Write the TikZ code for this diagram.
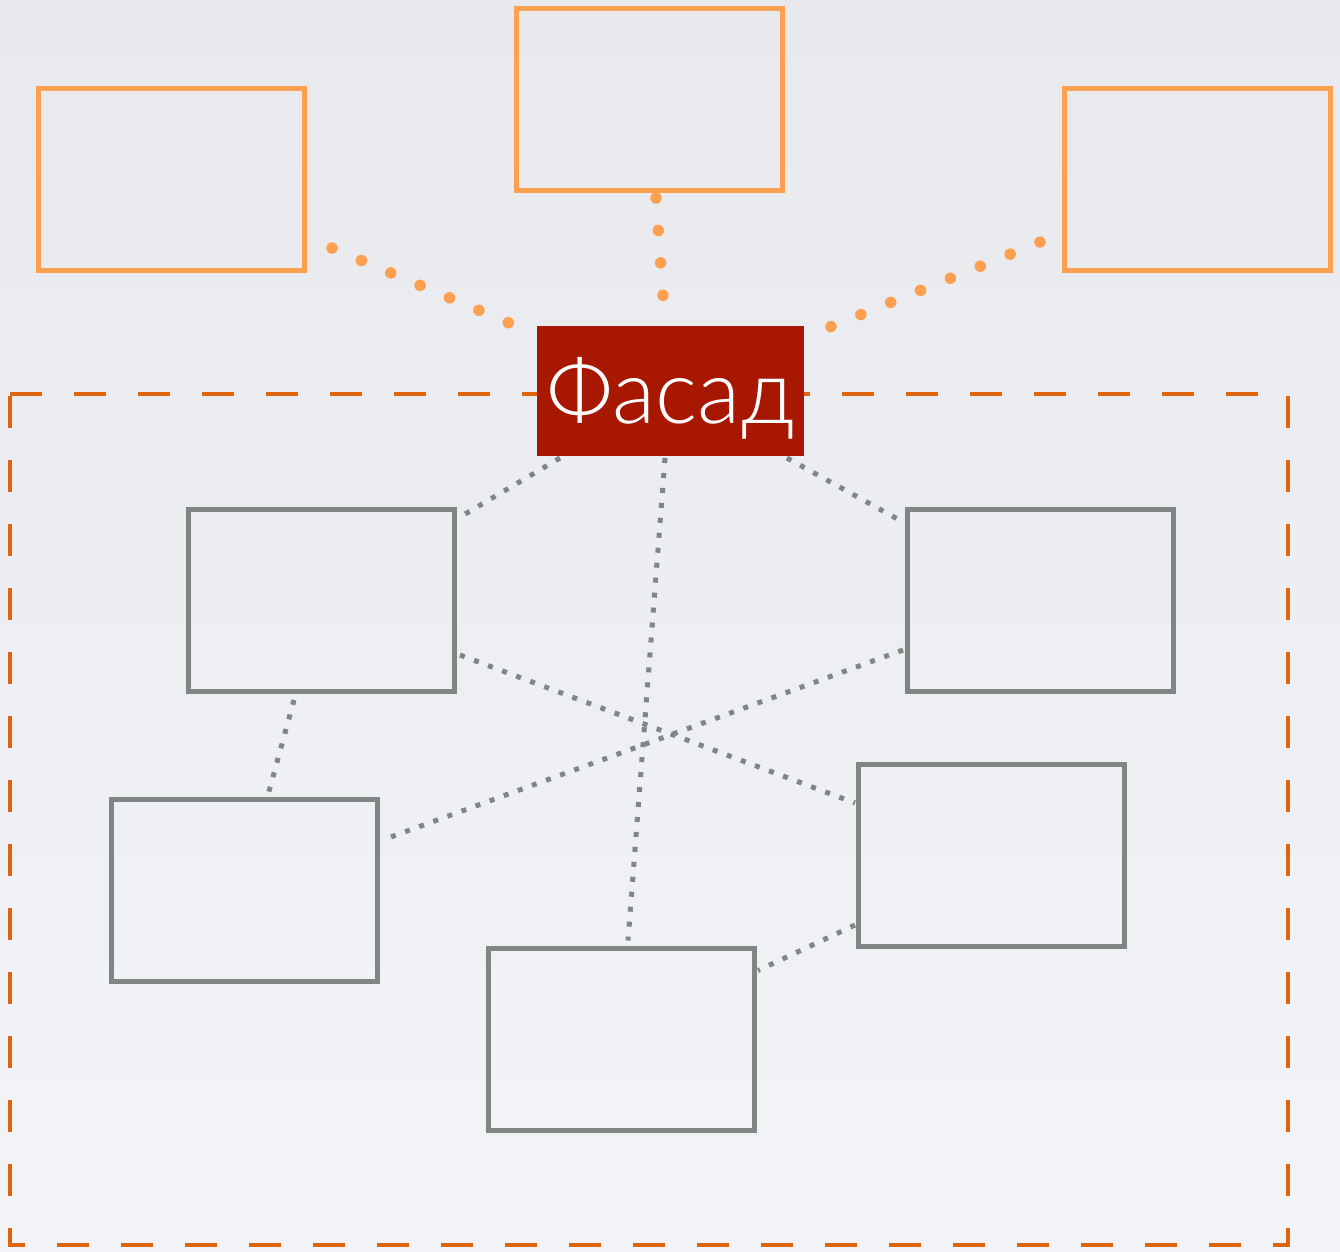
\documentclass[tikz,border=0pt]{standalone}
\usepackage{fontspec}
\usetikzlibrary{calc}
\IfFontExistsTF{Lato Light}{\newfontfamily\facadefont{Lato Light}}{\newfontfamily\facadefont{Lato}}
\definecolor{bgtop}{HTML}{E8E9ED}
\definecolor{bgbot}{HTML}{F3F4F8}
\definecolor{orangebox}{HTML}{FFA050}
\definecolor{orangedash}{HTML}{DE640E}
\definecolor{graybox}{HTML}{7F8785}
\definecolor{facadered}{HTML}{A81800}
\tikzset{
  obox/.style={draw=orangebox, line width=5pt, rectangle, inner sep=0pt, outer sep=0pt, minimum width=266pt, minimum height=182pt},
  gbox/.style={draw=graybox, line width=5pt, rectangle, inner sep=0pt, outer sep=0pt, minimum width=266pt, minimum height=182pt},
  odots/.style={draw=orangebox, line width=11.5pt, line cap=round, dash pattern=on 0.01pt off #1},
  odots/.default=32pt,
  gdots/.style={draw=graybox, line width=5pt, dash pattern=on 5pt off 10pt},
  fbox/.style={fill=facadered, rectangle, inner sep=0pt, outer sep=0pt, minimum width=267pt, minimum height=130pt, text height=64pt, text depth=0pt, text=white, font=\facadefont\fontsize{89}{90}\selectfont},
  frame/.style={draw=orangedash, line width=4.5pt, dash pattern=on 32pt off 32pt}
}
\begin{document}
\begin{tikzpicture}[x=1pt,y=-1pt]
\useasboundingbox (0,0) rectangle (1340,1251);
\shade[top color=bgtop, bottom color=bgbot] (0,0) rectangle (1340,1251);
% frame
\draw[frame] (10,394) -- (1288,394) -- (1288,1245) -- (10,1245) -- cycle;
% orange boxes
\node[obox] (tl) at (171,179) {};
\node[obox] (tc) at (649,99) {};
\node[obox] (tr) at (1197,179) {};
% gray boxes
\node[gbox] (a) at (321,600) {};
\node[gbox] (b) at (1040,600) {};
\node[gbox] (c) at (244,890) {};
\node[gbox] (d) at (991,855) {};
\node[gbox] (e) at (621,1039.5) {};
% facade
\node[fbox] (f) at (670.5,391) {Фасад};
% orange dotted connectors
\draw[odots=31.9pt] ($(tl.south east)+(28,-22)$) -- ($(f.north west)+(-28,-3)$);
\draw[odots=32.5pt] ($(tc.south)+(7,8)$) -- ($(f.north)+(-7.5,-30)$);
\draw[odots=32.2pt] ($(tr.south west)+(-24,-28)$) -- ($(f.north east)+(26,1)$);
% gray dotted connectors
\draw[gdots] ($(f.south west)+(23,2)$) -- ($(a.north east)+(6,8)$);
\draw[gdots] ($(f.south)+(-5.5,2)$) -- ($(e.north)+(7,-8)$);
\draw[gdots] ($(f.south east)+(-17,2)$) -- ($(b.north west)+(-4,13)$);
\draw[gdots] ($(a.south)+(-27,9)$) -- ($(c.north)+(24,-4)$);
\draw[gdots] ($(a.east)+(6,55)$) -- ($(d.west)+(-3,-52)$);
\draw[gdots] ($(b.west)+(-4,50)$) -- ($(c.east)+(11,-52)$);
\draw[gdots] ($(d.south west)+(-3,-21)$) -- ($(e.north east)+(4,22)$);
\end{tikzpicture}
\end{document}
